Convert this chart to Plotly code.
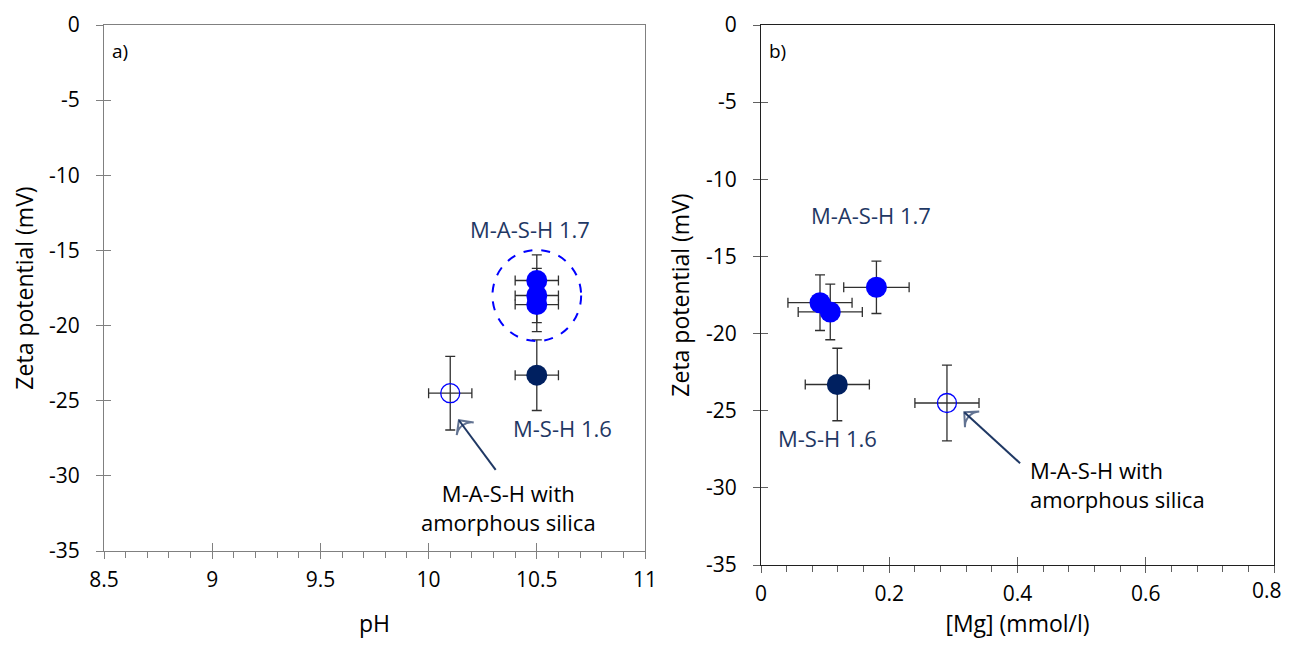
import plotly.graph_objects as go

# ---- data ----
# panel a) zeta potential vs pH
ph_mash = [10.5, 10.5, 10.5]
zeta_mash = [-17.0, -18.0, -18.6]
zeta_mash_err = [1.7, 1.8, 1.8]
ph_mash_err = [0.1, 0.1, 0.1]

ph_msh = [10.5]
zeta_msh = [-23.3]
zeta_msh_err = [2.35]
ph_msh_err = [0.1]

ph_silica = [10.1]
zeta_silica = [-24.5]
zeta_silica_err = [2.45]
ph_silica_err = [0.1]

# panel b) zeta potential vs [Mg]
mg_mash = [0.18, 0.092, 0.108]
mg_mash_err = [0.051, 0.05, 0.05]
mg_msh = [0.119]
mg_msh_err = [0.05]
mg_silica = [0.29]
mg_silica_err = [0.05]

ph_ticks = [8.5, 9, 9.5, 10, 10.5, 11]
ph_ticklabels = ["8.5", "9", "9.5", "10", "10.5", "11"]
mg_ticks = [0, 0.2, 0.4, 0.6, 0.8]
mg_ticklabels = ["0", "0.2", "0.4", "0.6", "0.8"]
zeta_ticks = [0, -5, -10, -15, -20, -25, -30, -35]
zeta_ticklabels = ["0", "-5", "-10", "-15", "-20", "-25", "-30", "-35"]

# annotation arrows (tail -> head)
arrow_a_x = [10.31, 10.14]
arrow_a_y = [-29.6, -26.3]
arrow_b_x = [0.404, 0.317]
arrow_b_y = [-28.4, -25.1]

BLUE = "#0000FF"
NAVY = "#002060"
LABEL = "#1F3864"
ERR = "#303030"
FONT = "Open Sans"
W, H = 1285, 631   # page body has an 8px margin in the browser; avoid scrollbars
OFF = 8


def dx(x0, x1):
    return [(x0 - OFF) / W, (x1 - OFF) / W]


def dy(y_top, y_bot):
    return [1 - (y_bot - OFF) / H, 1 - (y_top - OFF) / H]


fig = go.Figure()


def add_points(x, y, ex, ey, xa, ya, filled, color):
    fig.add_trace(go.Scatter(
        x=x, y=y, mode="markers", xaxis=xa, yaxis=ya, showlegend=False,
        marker=dict(size=21 if filled else 19,
                    color=color if filled else "rgba(0,0,0,0)",
                    line=dict(color=color, width=0 if filled else 1.3)),
        error_x=dict(type="data", array=ex, color=ERR, thickness=1.3, width=5),
        error_y=dict(type="data", array=ey, color=ERR, thickness=1.3, width=5),
    ))


def add_arrow(x, y, xa, ya):
    fig.add_trace(go.Scatter(
        x=x, y=y, mode="lines+markers", xaxis=xa, yaxis=ya, showlegend=False,
        hoverinfo="skip", line=dict(color=LABEL, width=2),
        marker=dict(symbol=["circle", "arrow-wide-open"], size=[0, 15],
                    angleref="previous", color=LABEL,
                    line=dict(color=LABEL, width=2)),
    ))


# panel a
add_points(ph_silica, zeta_silica, ph_silica_err, zeta_silica_err, "x", "y", False, BLUE)
add_points(ph_msh, zeta_msh, ph_msh_err, zeta_msh_err, "x", "y", True, NAVY)
add_points(ph_mash, zeta_mash, ph_mash_err, zeta_mash_err, "x", "y", True, BLUE)
add_arrow(arrow_a_x, arrow_a_y, "x", "y")
# panel b
add_points(mg_silica, zeta_silica, mg_silica_err, zeta_silica_err, "x2", "y2", False, BLUE)
add_points(mg_msh, zeta_msh, mg_msh_err, zeta_msh_err, "x2", "y2", True, NAVY)
add_points(mg_mash, zeta_mash, mg_mash_err, zeta_mash_err, "x2", "y2", True, BLUE)
add_arrow(arrow_b_x, arrow_b_y, "x2", "y2")

tickfont = dict(family=FONT, size=21, color="#000000")
titlefont = dict(family=FONT, size=23, color="#000000")

common_x = dict(showgrid=False, zeroline=False, showline=True, mirror=True,
                ticks="outside", ticklen=7, tickwidth=1, tickfont=tickfont,
                title_font=titlefont, fixedrange=True, automargin=False,
                ticklabelstandoff=3)
common_y = dict(showgrid=False, zeroline=False, showline=True, mirror=True,
                ticks="outside", ticklen=7, tickwidth=1, tickfont=tickfont,
                title_font=titlefont, range=[-35, 0], tickvals=zeta_ticks,
                ticktext=zeta_ticklabels, fixedrange=True, automargin=False,
                ticklabelstandoff=12)
overlay = dict(showticklabels=False, showgrid=False, zeroline=False, showline=False,
               fixedrange=True, automargin=False, ticks="inside")

# last [Mg] tick label sits at the window edge: draw it as a right-anchored text instead
mg_axis_text = mg_ticklabels[:-1] + [""]

fig.update_layout(
    width=W, height=H, plot_bgcolor="white", paper_bgcolor="white",
    margin=dict(l=0, r=0, t=0, b=0, pad=0),
    xaxis=dict(common_x, domain=dx(104, 645), range=[8.5, 11], tickvals=ph_ticks,
               ticktext=ph_ticklabels, linecolor="#808080", tickcolor="#808080",
               minor=dict(dtick=0.1, ticks="outside", ticklen=6, tickcolor="#808080"),
               title=dict(text="pH", standoff=24), anchor="y"),
    yaxis=dict(common_y, domain=dy(25, 551), linecolor="#808080", tickcolor="#808080",
               title=dict(text="Zeta potential (mV)", standoff=9), anchor="x"),
    xaxis2=dict(common_x, domain=dx(761, 1274), range=[0, 0.8], tickvals=mg_ticks,
                ticktext=mg_axis_text, linecolor="#202020", tickcolor="#606060",
                minor=dict(dtick=0.04, ticks="outside", ticklen=6, tickcolor="#606060"),
                title=dict(text="[Mg] (mmol/l)", standoff=15), anchor="y2"),
    yaxis2=dict(common_y, domain=dy(25, 565), linecolor="#202020", tickcolor="#606060",
                title=dict(text="Zeta potential (mV)", standoff=9), anchor="x2"),
    xaxis3=dict(overlay, overlaying="x", matches="x", anchor="y",
                tickvals=ph_ticks, ticklen=8, tickcolor="#808080"),
    xaxis4=dict(overlay, overlaying="x2", matches="x2", anchor="y2",
                tickvals=mg_ticks, ticklen=8, tickcolor="#606060"),
    yaxis3=dict(overlay, overlaying="y", matches="y", anchor="x",
                tickvals=zeta_ticks, ticklen=7, tickcolor="#808080"),
    yaxis4=dict(overlay, overlaying="y2", matches="y2", anchor="x2",
                tickvals=zeta_ticks, ticklen=7, tickcolor="#606060"),
)

fig.add_trace(go.Scatter(x=[8.5], y=[0], xaxis="x3", yaxis="y3", mode="markers",
                         marker=dict(opacity=0), showlegend=False, hoverinfo="skip"))
fig.add_trace(go.Scatter(x=[0], y=[0], xaxis="x4", yaxis="y4", mode="markers",
                         marker=dict(opacity=0), showlegend=False, hoverinfo="skip"))

# dashed circle around the M-A-S-H 1.7 points in panel a
fig.add_shape(type="circle", xref="x", yref="y", x0=10.295, x1=10.705, y0=-21.03, y1=-14.97,
              line=dict(color=BLUE, width=2, dash="dash"))

lab = dict(family=FONT, size=22, color=LABEL)
blk = dict(family=FONT, size=22, color="#000000")
pan = dict(family=FONT, size=19, color="#000000")

ann = [
    dict(x=8.53, y=-1.7, xref="x", yref="y", text="a)", showarrow=False, xanchor="left", font=pan),
    dict(x=0.01, y=-1.7, xref="x2", yref="y2", text="b)", showarrow=False, xanchor="left", font=pan),
    dict(x=10.47, y=-13.6, xref="x", yref="y", text="M-A-S-H 1.7", showarrow=False, font=lab),
    dict(x=10.62, y=-26.8, xref="x", yref="y", text="M-S-H 1.6", showarrow=False, font=lab),
    dict(x=10.37, y=-32.1, xref="x", yref="y", text="M-A-S-H with<br>amorphous silica",
         showarrow=False, font=blk, align="center"),
    dict(x=0.172, y=-12.3, xref="x2", yref="y2", text="M-A-S-H 1.7", showarrow=False, font=lab),
    dict(x=0.103, y=-26.8, xref="x2", yref="y2", text="M-S-H 1.6", showarrow=False, font=lab),
    dict(x=0.416, y=-29.75, xref="x2", yref="y2", text="M-A-S-H with<br>amorphous silica",
         showarrow=False, font=blk, align="left", xanchor="left"),
    dict(x=mg_ticks[-1], y=-35, xref="x2", yref="y2", text=mg_ticklabels[-1],
         showarrow=False, font=tickfont, xanchor="right", yanchor="middle",
         xshift=10, yshift=-25),
]
fig.update_layout(annotations=ann)

fig.write_html("out.html")
